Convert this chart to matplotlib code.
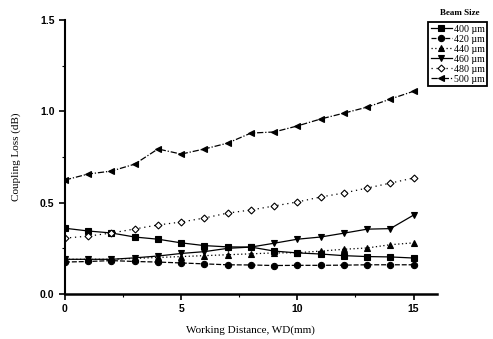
import matplotlib
matplotlib.use("Agg")
import matplotlib.pyplot as plt
from matplotlib.ticker import MultipleLocator

wd = list(range(16))
labels = ["400 \u00b5m", "420 \u00b5m", "440 \u00b5m", "460 \u00b5m", "480 \u00b5m", "500 \u00b5m"]
loss_400 = [0.36, 0.345, 0.334, 0.312, 0.30, 0.28, 0.265, 0.258, 0.257, 0.235, 0.225, 0.219, 0.21, 0.205, 0.203, 0.197]
loss_420 = [0.175, 0.178, 0.183, 0.178, 0.175, 0.17, 0.165, 0.16, 0.159, 0.156, 0.157, 0.157, 0.158, 0.16, 0.16, 0.16]
loss_440 = [0.19, 0.19, 0.19, 0.195, 0.20, 0.205, 0.21, 0.215, 0.22, 0.225, 0.226, 0.235, 0.245, 0.252, 0.27, 0.28]
loss_460 = [0.19, 0.19, 0.19, 0.198, 0.208, 0.222, 0.232, 0.25, 0.257, 0.278, 0.30, 0.312, 0.333, 0.355, 0.358, 0.432]
loss_480 = [0.306, 0.317, 0.334, 0.356, 0.378, 0.394, 0.416, 0.443, 0.46, 0.482, 0.504, 0.531, 0.553, 0.58, 0.607, 0.635]
loss_500 = [0.624, 0.657, 0.673, 0.711, 0.794, 0.766, 0.794, 0.826, 0.881, 0.887, 0.92, 0.958, 0.99, 1.023, 1.067, 1.11]

series = [loss_400, loss_420, loss_440, loss_460, loss_480, loss_500]
markers = ["s", "o", "^", "v", "D", "<"]
styles = ["-", (0, (4, 1.5)), (0, (1, 2)), "-", (0, (1, 3)), (0, (5, 1.5, 1, 1.5))]
mfc = ["black", "black", "black", "black", "white", "black"]
msize = [4.5, 4.5, 4.5, 5, 3.5, 5]

fig = plt.figure(figsize=(4.93, 3.39), dpi=100)
ax = fig.add_axes([0.1318, 0.1327, 0.886 - 0.1318, 0.941 - 0.1327])

for y, lab, m, ls, fc, ms in zip(series, labels, markers, styles, mfc, msize):
    ax.plot(wd, y, color="black", linestyle=ls, linewidth=0.9, marker=m,
            markersize=ms, markerfacecolor=fc, markeredgecolor="black",
            markeredgewidth=0.8, label=lab)

ax.set_xlim(0, 16)
ax.set_ylim(0, 1.5)
ax.xaxis.set_major_locator(MultipleLocator(5))
ax.xaxis.set_minor_locator(MultipleLocator(2.5))
ax.yaxis.set_major_locator(MultipleLocator(0.5))
ax.yaxis.set_minor_locator(MultipleLocator(0.25))
ax.spines["top"].set_visible(False)
ax.spines["right"].set_visible(False)
ax.spines["left"].set_linewidth(1.5)
ax.spines["bottom"].set_linewidth(1.8)
ax.tick_params(which="major", direction="out", length=4, width=1.2)
ax.tick_params(which="minor", direction="out", length=2, width=0.8)

tick_font = {"family": "Liberation Sans", "weight": "bold", "size": 7.5}
ax.set_xticklabels([f"{int(t)}" for t in ax.get_xticks()], fontdict=tick_font)
ax.set_yticklabels([f"{t:.1f}" for t in ax.get_yticks()], fontdict=tick_font)

lab_font = {"family": "Liberation Serif", "size": 8}
ax.set_xlabel("Working Distance, WD(mm)", fontdict=lab_font, labelpad=8)
ax.set_ylabel("Coupling Loss (dB)", fontdict=lab_font, labelpad=14)

leg = ax.legend(loc="upper left", bbox_to_anchor=(428 / 493, 1 - 22 / 339),
                bbox_transform=fig.transFigure, frameon=True,
                fancybox=False, edgecolor="black", framealpha=1,
                prop={"family": "Liberation Serif", "size": 7.2},
                handlelength=2.1, handletextpad=0.25, borderpad=0.25, labelspacing=0.1,
                borderaxespad=0)
leg.get_frame().set_linewidth(1.3)
fig.text(460 / 493, 1 - 13 / 339, "Beam Size", ha="center", va="center",
         family="Liberation Serif", weight="bold", size=6.5)

fig.savefig("out.png", dpi=100)
